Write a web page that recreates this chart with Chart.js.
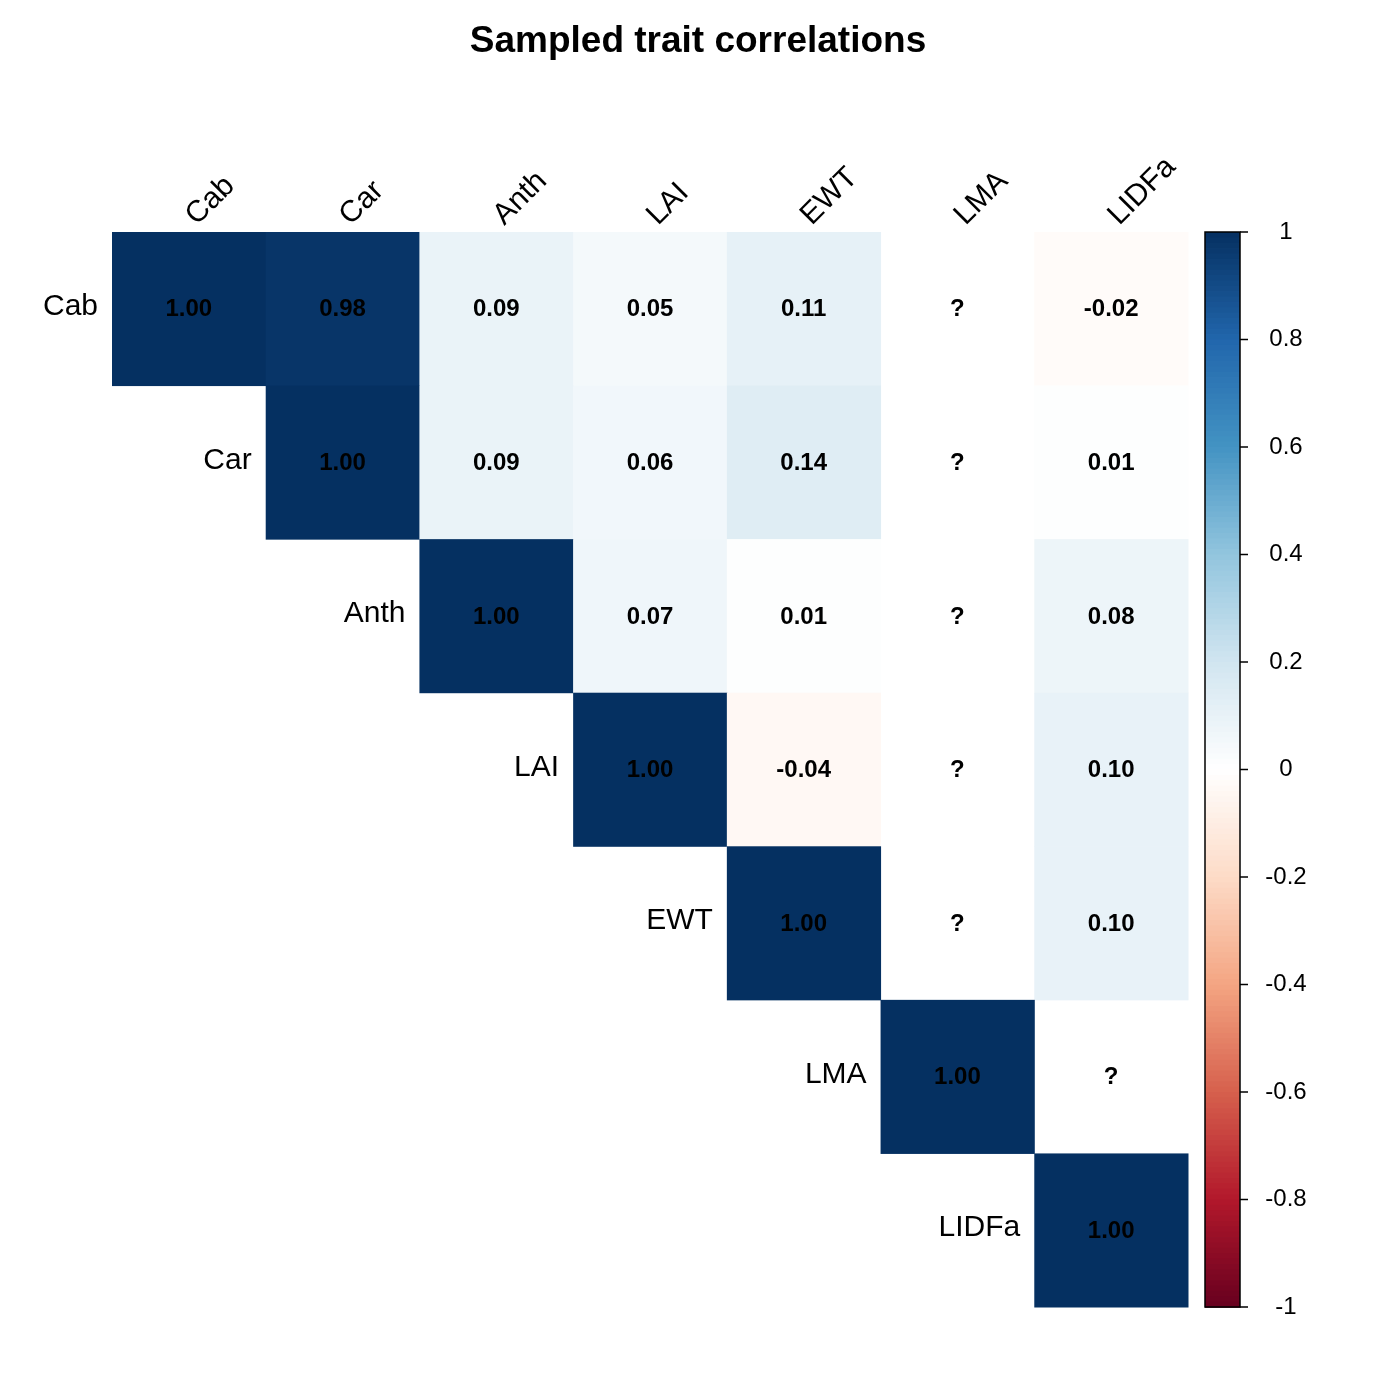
<!DOCTYPE html>
<html>
<head>
<meta charset="utf-8">
<script src="https://cdn.jsdelivr.net/npm/chart.js@4/dist/chart.umd.min.js"></script>
<style>
  html, body { margin: 0; padding: 0; background: #fff; }
  #wrap { width: 1400px; height: 1400px; }
</style>
</head>
<body>
<div id="wrap"><canvas id="corr"></canvas></div>
<script>
const traits = ['Cab', 'Car', 'Anth', 'LAI', 'EWT', 'LMA', 'LIDFa'];

// upper triangle rows, null = not available ("?")
const rowCab   = [1.00, 0.98, 0.09, 0.05, 0.11, null, -0.02];
const rowCar   = [1.00, 0.09, 0.06, 0.14, null, 0.01];
const rowAnth  = [1.00, 0.07, 0.01, null, 0.08];
const rowLAI   = [1.00, -0.04, null, 0.10];
const rowEWT   = [1.00, null, 0.10];
const rowLMA   = [1.00, null];
const rowLIDFa = [1.00];
const rows = [rowCab, rowCar, rowAnth, rowLAI, rowEWT, rowLMA, rowLIDFa];

const barTicks = [1, 0.8, 0.6, 0.4, 0.2, 0, -0.2, -0.4, -0.6, -0.8, -1];
const barTickLabels = ['1', '0.8', '0.6', '0.4', '0.2', '0', '-0.2', '-0.4', '-0.6', '-0.8', '-1'];

// RdBu palette stops from -1 to 1
const palette = ['#67001F', '#B2182B', '#D6604D', '#F4A582', '#FDDBC7', '#FFFFFF',
                 '#D1E5F0', '#92C5DE', '#4393C3', '#2166AC', '#053061'];

function hex(c) {
    return [parseInt(c.substr(1, 2), 16), parseInt(c.substr(3, 2), 16), parseInt(c.substr(5, 2), 16)];
}
function colorFor(v) {
    const t = (v + 1) / 2 * (palette.length - 1);
    const i = Math.min(Math.floor(t), palette.length - 2);
    const f = t - i;
    const a = hex(palette[i]), b = hex(palette[i + 1]);
    const c = a.map((x, k) => Math.round(x + (b[k] - x) * f));
    return 'rgb(' + c.join(',') + ')';
}

const points = [];
rows.forEach((row, i) => {
    row.forEach((v, k) => {
        const j = i + k;
        points.push({ x: j + 0.5, y: i + 0.5, v: v, row: i, col: j });
    });
});

const corrPlugin = {
    id: 'corrPlugin',
    afterDatasetsDraw(chart) {
        const ctx = chart.ctx;
        const xs = chart.scales.x, ys = chart.scales.y;
        ctx.save();
        // cells
        points.forEach(p => {
            const x0 = xs.getPixelForValue(p.col), x1 = xs.getPixelForValue(p.col + 1);
            const y0 = ys.getPixelForValue(p.row), y1 = ys.getPixelForValue(p.row + 1);
            if (p.v !== null) {
                ctx.fillStyle = colorFor(p.v);
                ctx.fillRect(x0, y0, x1 - x0 + 0.5, y1 - y0 + 0.5);
            }
        });
        // numbers
        ctx.fillStyle = '#000';
        ctx.font = 'bold 24px "Liberation Sans", Arial, sans-serif';
        ctx.textAlign = 'center';
        ctx.textBaseline = 'middle';
        points.forEach(p => {
            const cx = xs.getPixelForValue(p.x), cy = ys.getPixelForValue(p.y);
            ctx.fillText(p.v === null ? '?' : p.v.toFixed(2), cx, cy + 1);
        });
        // row labels
        ctx.font = '30px "Liberation Sans", Arial, sans-serif';
        ctx.textAlign = 'right';
        traits.forEach((t, i) => {
            ctx.fillText(t, xs.getPixelForValue(i) - 14, ys.getPixelForValue(i + 0.5) - 2);
        });
        // column labels
        ctx.textAlign = 'left';
        ctx.textBaseline = 'alphabetic';
        traits.forEach((t, j) => {
            ctx.save();
            ctx.translate(xs.getPixelForValue(j + 0.5) + 8, ys.getPixelForValue(0) - 6);
            ctx.rotate(-Math.PI / 4);
            ctx.fillText(t, 0, 0);
            ctx.restore();
        });
        // colour bar
        const top = ys.getPixelForValue(0), bot = ys.getPixelForValue(7);
        const bx = chart.chartArea.right + 17, bw = 35;
        const steps = 200;
        for (let s = 0; s < steps; s++) {
            const v = 1 - 2 * (s + 0.5) / steps;
            ctx.fillStyle = colorFor(v);
            const ya = top + (bot - top) * s / steps;
            ctx.fillRect(bx, ya, bw, (bot - top) / steps + 0.8);
        }
        ctx.strokeStyle = '#000';
        ctx.lineWidth = 1.5;
        ctx.strokeRect(bx, top, bw, bot - top);
        ctx.font = '24px "Liberation Sans", Arial, sans-serif';
        ctx.textAlign = 'center';
        ctx.textBaseline = 'middle';
        ctx.fillStyle = '#000';
        barTicks.forEach((v, k) => {
            const y = top + (1 - v) / 2 * (bot - top);
            ctx.beginPath();
            ctx.moveTo(bx + bw, y);
            ctx.lineTo(bx + bw + 8, y);
            ctx.stroke();
            ctx.fillText(barTickLabels[k], bx + bw + 46, y);
        });
        // title
        ctx.font = 'bold 37px "Liberation Sans", Arial, sans-serif';
        ctx.fillText('Sampled trait correlations', 698, 42);
        ctx.restore();
    }
};

new Chart(document.getElementById('corr').getContext('2d'), {
    type: 'scatter',
    data: {
        datasets: [{
            data: points,
            pointRadius: 0,
            pointHoverRadius: 0
        }]
    },
    options: {
        responsive: true,
        maintainAspectRatio: false,
        animation: false,
        layout: { padding: { left: 112, right: 212, top: 232, bottom: 93 } },
        plugins: { legend: { display: false }, tooltip: { enabled: false }, title: { display: false } },
        scales: {
            x: { type: 'linear', min: 0, max: 7, display: false },
            y: { type: 'linear', min: 0, max: 7, reverse: true, display: false }
        }
    },
    plugins: [corrPlugin]
});
</script>
</body>
</html>
